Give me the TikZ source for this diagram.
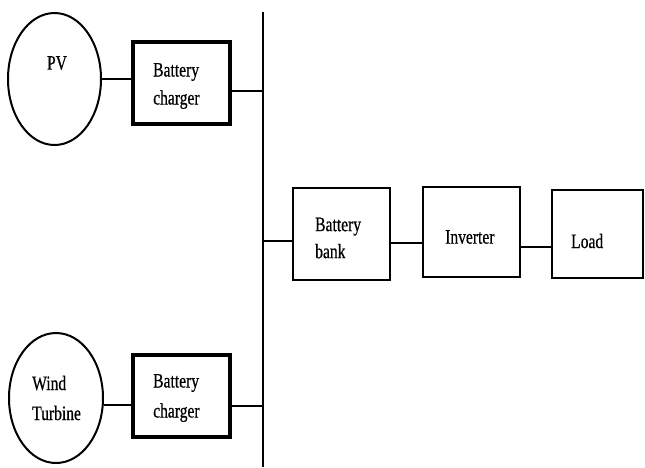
\documentclass[tikz,border=0pt]{standalone}
\usepackage{fontspec}
\setmainfont{Liberation Serif}[FakeStretch=0.76,FakeBold=0.6]
\usetikzlibrary{shapes.geometric,calc}
\tikzset{
  src/.style={draw, ellipse, line width=2pt, inner sep=0pt},
  blk/.style={draw, rectangle, line width=2.6pt, inner sep=0pt},
  chg/.style={draw, rectangle, line width=3.4pt, inner sep=0pt},
  lbl/.style={inner sep=0pt, align=left, font=\fontsize{20.5}{28}\selectfont},
  conn/.style={line width=2pt},
}
\begin{document}
\begin{tikzpicture}[x=1pt,y=-1pt]
\useasboundingbox (0,0) rectangle (645,467);
% sources
\node[src, minimum width=93pt, minimum height=132pt] (pv) at (54.5,79) {};
\node[src, minimum width=94pt, minimum height=130pt] (wt) at (56,398) {};
% chargers
\node[chg, minimum width=97pt, minimum height=82pt] (ch1) at (181.5,83) {};
\node[chg, minimum width=97pt, minimum height=82pt] (ch2) at (181.5,396) {};
% chain
\node[blk, minimum width=97pt, minimum height=92pt] (bank) at (341.5,234) {};
\node[blk, minimum width=97pt, minimum height=90pt] (inv) at (471.5,232) {};
\node[blk, minimum width=91pt, minimum height=88pt] (load) at (597.5,234) {};
% bus
\coordinate (bustop) at (263,12);
\coordinate (busbot) at (263,467);
\draw[conn] (bustop) -- (busbot);
% labels
\node[lbl] (tpv) at (57,63) {PV};
\node[lbl, anchor=west] (tch1) at (153,86) {Battery\\charger};
\node[lbl, anchor=west, font=\fontsize{20.5}{30}\selectfont] (twt) at (32,398) {Wind\\Turbine};
\node[lbl, anchor=west, font=\fontsize{20.5}{30}\selectfont] (tch2) at (153,398) {Battery\\charger};
\node[lbl, anchor=west, font=\fontsize{20.5}{27}\selectfont] (tbank) at (315,238) {Battery\\bank};
\node[lbl, anchor=west] (tinv) at (445,237) {Inverter};
\node[lbl, anchor=west] (tload) at (571,241) {Load};
% connectors
\draw[conn] (pv.east) -- (pv.east -| ch1.west);
\draw[conn] ([yshift=-8pt]ch1.east) -- ([yshift=-8pt]ch1.east -| bustop);
\draw[conn] (wt.east |- 0,405) -- (ch2.west |- 0,405);
\draw[conn] (ch2.east |- 0,406) -- (bustop |- 0,406);
\draw[conn] (bustop |- 0,241) -- (bank.west |- 0,241);
\draw[conn] (bank.east |- 0,243) -- (inv.west |- 0,243);
\draw[conn] (inv.east |- 0,247) -- (load.west |- 0,247);
\end{tikzpicture}
\end{document}
